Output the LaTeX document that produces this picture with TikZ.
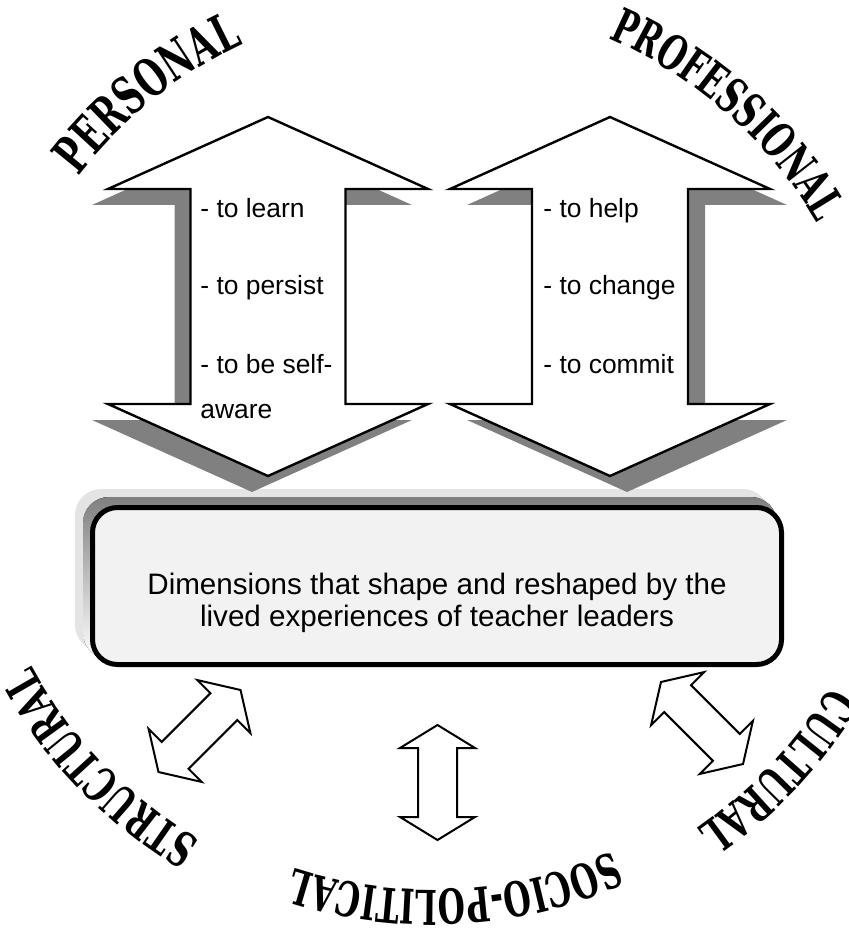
\documentclass[tikz,border=0pt]{standalone}
\usepackage{fontspec}
\setmainfont{Liberation Sans}
\newfontfamily\arcfont[FakeStretch=0.65]{DejaVu Serif}
\usetikzlibrary{decorations.text}
\definecolor{shade}{HTML}{808080}
\definecolor{pale}{HTML}{E4E4E4}
\definecolor{boxfill}{HTML}{F2F2F2}
\tikzset{
  pics/dblarrow/.style n args={4}{code={\path[pic actions] (0,#1)--(#2,#1-#4)--(#3,#1-#4)--(#3,-#1+#4)--(#2,-#1+#4)--(0,-#1)--(-#2,-#1+#4)--(-#3,-#1+#4)--(-#3,#1-#4)--(-#2,#1-#4)--cycle;}},
  item/.style={anchor=base west,inner sep=0pt,font=\fontsize{13.2}{16}\selectfont},
  arctext/.style 2 args={decorate,decoration={text along path,text align=center,text={|\arcfont\bfseries\fontsize{#1}{#1}\selectfont|#2}}},
}
\begin{document}
\begin{tikzpicture}[x=0.5pt,y=0.5pt]
\useasboundingbox (0,0) rectangle (849,-946);
\coordinate (ctr) at (432,-448);
\fill[pale,rounded corners=13pt] (75,-489) rectangle (769,-651);
\fill[shade,rounded corners=13pt] (83,-497) rectangle (777,-659);
\draw[line width=2.5pt,fill=boxfill,rounded corners=12.5pt] (92.5,-507.5) rectangle (781.5,-664.5);
\node[align=center,inner sep=0pt,font=\fontsize{14.8}{16}\selectfont] (dim) at (437,-603) {Dimensions that shape and reshaped by the\\lived experiences of teacher leaders};
\pic[fill=shade] at (252,-312.5) {dblarrow={179.5}{160}{77.5}{72}};
\pic[draw,fill=white,line width=1.2pt] at (268,-296.5) {dblarrow={179.5}{160}{77.5}{72}};
\pic[fill=shade] at (627,-312.5) {dblarrow={179.5}{160}{78}{72}};
\pic[draw,fill=white,line width=1.2pt] at (610,-296.5) {dblarrow={179.5}{160}{78}{72}};
\node[item] (learn) at (200,-218) {- to learn};
\node[item] (persist) at (200,-295) {- to persist};
\node[item] (self) at (200,-373) {- to be self-};
\node[item] (aware) at (200,-418) {aware};
\node[item] (help) at (543,-218) {- to help};
\node[item] (change) at (543,-295) {- to change};
\node[item] (commit) at (543,-373) {- to commit};
\pic[draw,fill=white,line width=1pt,rotate=-45] at (199.5,-731) {dblarrow={58}{37.5}{19}{23.5}};
\pic[draw,fill=white,line width=1pt] at (437.5,-782.5) {dblarrow={57.5}{37.5}{19.5}{23}};
\pic[draw,fill=white,line width=1pt,rotate=45] at (702,-723) {dblarrow={58}{37.5}{19}{23.5}};
\path[arctext={26}{PERSONAL}] ([shift={(158.7:446)}]ctr) arc[start angle=158.7,end angle=98.7,radius=446];
\path[arctext={24}{PROFESSIONAL}] ([shift={(78.5:446)}]ctr) arc[start angle=78.5,end angle=18.5,radius=446];
\path[arctext={24}{CULTURAL}] ([shift={(-13:464)}]ctr) arc[start angle=-13,end angle=-73,radius=464];
\path[arctext={24}{SOCIO-POLITICAL}] ([shift={(-57:442)}]ctr) arc[start angle=-57,end angle=-117,radius=442];
\path[arctext={24}{STRUCTURAL}] ([shift={(254:456)}]ctr) arc[start angle=254,end angle=194,radius=456];
\end{tikzpicture}
\end{document}
